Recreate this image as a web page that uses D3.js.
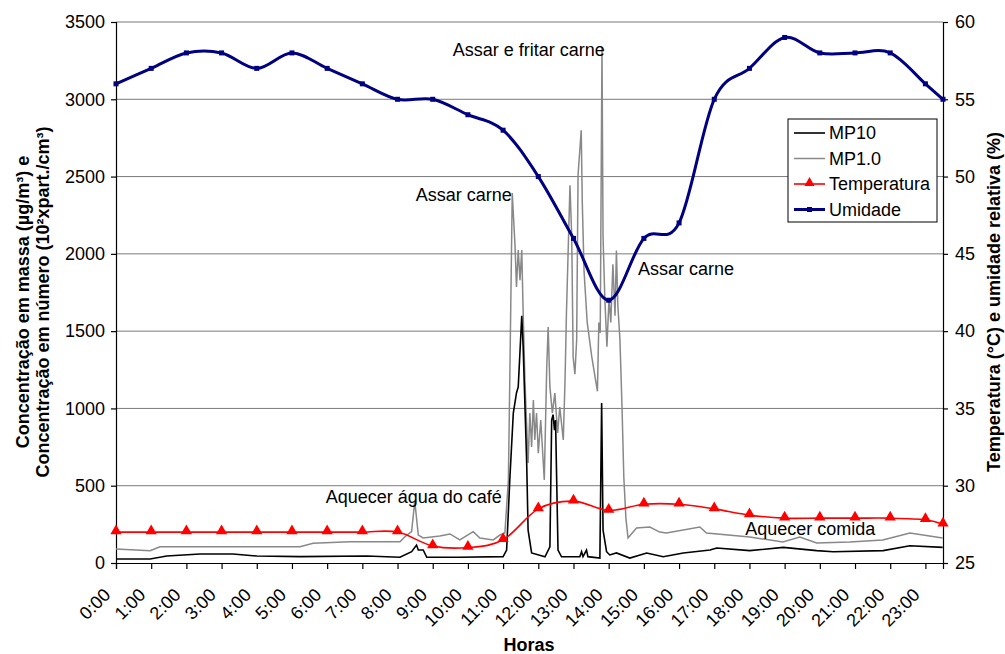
<!DOCTYPE html>
<html>
<head>
<meta charset="utf-8">
<script src="https://cdn.jsdelivr.net/npm/d3@7"></script>
<style>
  body { margin: 0; background: #fff; }
  svg text { font-family: "Liberation Sans", Arial, sans-serif; fill: #000; }
</style>
</head>
<body>
<div id="chart"></div>
<script>
// tick labels of the time axis
var rotulosHoras = ["0:00","1:00","2:00","3:00","4:00","5:00","6:00","7:00","8:00","9:00","10:00","11:00",
  "12:00","13:00","14:00","15:00","16:00","17:00","18:00","19:00","20:00","21:00","22:00","23:00"];
var posicoesHoras = [0,1,2,3,4,5,6,7,8,9,10,11,12,13,14,15,16,17,18,19,20,21,22,23];

// hourly readings (hour, value)
var horasLeitura = [0,1,2,3,4,5,6,7,8,9,10,11,12,13,14,15,16,17,18,19,20,21,22,23,23.5];
var temperatura = [27,27,27,27,27,27,27,27,27,26.1,26,26.5,28.5,29,28.4,28.8,28.8,28.5,28.1,27.9,27.9,27.9,27.9,27.8,27.5];
var umidade = [56,57,58,58,57,58,57,56,55,55,54,53,50,46,42,46,47,55,57,59,58,58,58,56,55];

// MP10 [hour, value]
var mp10 = [[0,26],[0.97,26],[1.44,45],[2.39,58],[3.32,58],[4.0,45],[5.23,41],[7.12,45],[8.07,37],
  [8.4,73],[8.54,116],[8.59,84],[8.73,84],[8.83,37],[9.77,37],[11.0,41],[11.1,84],[11.19,537],
  [11.29,970],[11.38,1100],[11.43,1139],[11.53,1600],[11.57,1397],[11.67,647],[11.71,213],[11.81,65],
  [12.19,40],[12.33,104],[12.38,925],[12.42,960],[12.46,860],[12.49,925],[12.56,84],[12.66,40],
  [13.18,41],[13.23,73],[13.27,41],[13.37,84],[13.41,41],[13.75,32],[13.8,1035],[13.84,213],
  [13.94,73],[14.03,52],[14.22,65],[14.6,32],[15.08,65],[15.55,41],[16.12,65],[16.88,84],[17.07,97],
  [18.01,80],[18.96,101],[19.91,80],[20.38,73],[21.8,80],[22.56,112],[23.49,101]];

// MP1.0 [hour, value]
var mp1 = [[0,90],[0.97,80],[1.25,105],[3.32,105],[5.23,105],[5.6,127],[6.65,138],[8.07,138],
  [8.21,170],[8.4,203],[8.49,400],[8.59,181],[8.73,162],[9.2,175],[9.49,188],[9.77,149],[10.15,203],
  [10.34,162],[10.72,149],[10.91,181],[11.05,194],[11.15,537],[11.19,1185],[11.26,2394],[11.34,2045],
  [11.38,1786],[11.43,2025],[11.48,1830],[11.53,2025],[11.57,1617],[11.62,1184],[11.71,647],
  [11.76,970],[11.81,750],[11.86,1055],[11.9,796],[11.95,970],[12.0,711],[12.07,925],[12.17,537],
  [12.24,1268],[12.28,1527],[12.33,1139],[12.4,970],[12.47,1100],[12.55,841],[12.61,1009],
  [12.71,796],[12.76,1184],[12.8,1617],[12.9,2444],[12.95,2111],[12.99,1333],[13.04,1222],
  [13.09,1444],[13.13,2511],[13.22,2800],[13.25,2333],[13.3,1889],[13.39,1556],[13.52,1333],
  [13.68,1111],[13.72,1556],[13.76,1489],[13.81,3333],[13.84,2111],[13.89,1711],[13.95,1400],
  [14.01,1711],[14.06,1556],[14.12,1933],[14.18,1600],[14.22,2022],[14.26,1667],[14.32,1444],
  [14.38,1000],[14.43,556],[14.49,289],[14.55,162],[14.79,226],[15.17,233],[15.45,200],[15.64,194],
  [16.59,233],[16.78,194],[18.01,168],[18.95,136],[19.43,168],[19.91,129],[20.85,136],[21.79,149],
  [22.56,194],[23.49,162]];

var ticksEsq = [0,500,1000,1500,2000,2500,3000,3500];
var ticksDir = [25,30,35,40,45,50,55,60];

var anotacoes = [
  {texto: "Assar e fritar carne", h: 9.57, v: 3280},
  {texto: "Assar carne", h: 8.52, v: 2340},
  {texto: "Assar carne", h: 14.83, v: 1865},
  {texto: "Aquecer água do café", h: 5.96, v: 390},
  {texto: "Aquecer comida", h: 17.88, v: 180}
];

var W = 1005, H = 654;
var svg = d3.select('#chart').append('svg').attr('width', W).attr('height', H);

var x = d3.scaleLinear().domain([0, 23.5]).range([116, 943]);
var yE = d3.scaleLinear().domain([0, 3500]).range([563, 22]);
var yD = d3.scaleLinear().domain([25, 60]).range([563, 22]);

// grid
svg.append('g').selectAll('line').data(ticksEsq.slice(1)).enter().append('line')
  .attr('x1', x(0)).attr('x2', x(23.5))
  .attr('y1', function(d) { return yE(d); }).attr('y2', function(d) { return yE(d); })
  .attr('stroke', '#7a7a7a').attr('stroke-width', 1);

// axes
var eixoE = svg.append('g').attr('transform', 'translate(116,0)')
  .call(d3.axisLeft(yE).tickValues(ticksEsq).tickSize(5).tickPadding(6).tickFormat(d3.format('d')));
var eixoD = svg.append('g').attr('transform', 'translate(943,0)')
  .call(d3.axisRight(yD).tickValues(ticksDir).tickSize(5).tickPadding(7).tickFormat(d3.format('d')));
var eixoX = svg.append('g').attr('transform', 'translate(0,563)')
  .call(d3.axisBottom(x).tickValues(posicoesHoras).tickSize(6).tickFormat(function(d, i) { return rotulosHoras[i]; }));

[eixoE, eixoD, eixoX].forEach(function(g) {
  g.selectAll('path,line').attr('stroke', '#000').attr('stroke-width', 1.2);
  g.selectAll('text').style('font-size', '18px').style('font-family', '"Liberation Sans", Arial, sans-serif');
});
eixoX.selectAll('text')
  .attr('text-anchor', 'end')
  .attr('transform', 'translate(-5,33) rotate(-45)')
  .attr('y', 0).attr('dy', 0);

// series
var linhaMP = d3.line().x(function(d) { return x(d[0]); }).y(function(d) { return yE(d[1]); });

svg.append('path').datum(mp1).attr('d', linhaMP)
  .attr('fill', 'none').attr('stroke', '#888888').attr('stroke-width', 1.5);
svg.append('path').datum(mp10).attr('d', linhaMP)
  .attr('fill', 'none').attr('stroke', '#000').attr('stroke-width', 1.6);

var linhaT = d3.line().curve(d3.curveCardinal.tension(0))
  .x(function(d, i) { return x(horasLeitura[i]); }).y(function(d) { return yD(d); });

svg.append('path').datum(temperatura).attr('d', linhaT)
  .attr('fill', 'none').attr('stroke', '#ff0000').attr('stroke-width', 1.6);
svg.append('g').selectAll('path').data(temperatura).enter().append('path')
  .attr('d', d3.symbol().type(d3.symbolTriangle).size(55))
  .attr('transform', function(d, i) { return 'translate(' + x(horasLeitura[i]) + ',' + (yD(d) - 1) + ')'; })
  .attr('fill', '#ff0000');

svg.append('path').datum(umidade).attr('d', linhaT)
  .attr('fill', 'none').attr('stroke', '#000080').attr('stroke-width', 3);
svg.append('g').selectAll('rect').data(umidade).enter().append('rect')
  .attr('x', function(d, i) { return x(horasLeitura[i]) - 2.5; })
  .attr('y', function(d) { return yD(d) - 2.5; })
  .attr('width', 5).attr('height', 5).attr('fill', '#000080');

// annotations
svg.append('g').selectAll('text').data(anotacoes).enter().append('text')
  .attr('x', function(d) { return x(d.h); })
  .attr('y', function(d) { return yE(d.v); })
  .style('font-size', '18px')
  .text(function(d) { return d.texto; });

// legend
var leg = svg.append('g').attr('transform', 'translate(788,119)');
leg.append('rect').attr('width', 149).attr('height', 103)
  .attr('fill', '#fff').attr('stroke', '#000').attr('stroke-width', 1);
var itens = [
  {nome: 'MP10', cor: '#000', w: 1.6, m: null},
  {nome: 'MP1.0', cor: '#888888', w: 1.5, m: null},
  {nome: 'Temperatura', cor: '#ff0000', w: 1.6, m: 'tri'},
  {nome: 'Umidade', cor: '#000080', w: 3, m: 'sq'}
];
itens.forEach(function(it, i) {
  var yy = 14 + i * 25.5;
  leg.append('line').attr('x1', 6).attr('x2', 37).attr('y1', yy).attr('y2', yy)
    .attr('stroke', it.cor).attr('stroke-width', it.w);
  if (it.m === 'tri') {
    leg.append('path').attr('d', d3.symbol().type(d3.symbolTriangle).size(45)())
      .attr('transform', 'translate(21.5,' + (yy - 1) + ')').attr('fill', it.cor);
  }
  if (it.m === 'sq') {
    leg.append('rect').attr('x', 19).attr('y', yy - 2.5).attr('width', 5).attr('height', 5).attr('fill', it.cor);
  }
  leg.append('text').attr('x', 41).attr('y', yy).attr('dy', '0.35em')
    .style('font-size', '18px').text(it.nome);
});

// axis titles
svg.append('text').attr('transform', 'translate(29,302) rotate(-90)')
  .attr('text-anchor', 'middle').style('font-size', '18px').style('font-weight', 'bold')
  .text('Concentração em massa (µg/m³) e');
svg.append('text').attr('transform', 'translate(49,302) rotate(-90)')
  .attr('text-anchor', 'middle').style('font-size', '18px').style('font-weight', 'bold')
  .text('Concentração em número (10²xpart./cm³)');
svg.append('text').attr('transform', 'translate(1000,302) rotate(-90)')
  .attr('text-anchor', 'middle').style('font-size', '18px').style('font-weight', 'bold')
  .text('Temperatura (°C) e umidade relativa (%)');
svg.append('text').attr('x', 529).attr('y', 651)
  .attr('text-anchor', 'middle').style('font-size', '18px').style('font-weight', 'bold')
  .text('Horas');
</script>
</body>
</html>
